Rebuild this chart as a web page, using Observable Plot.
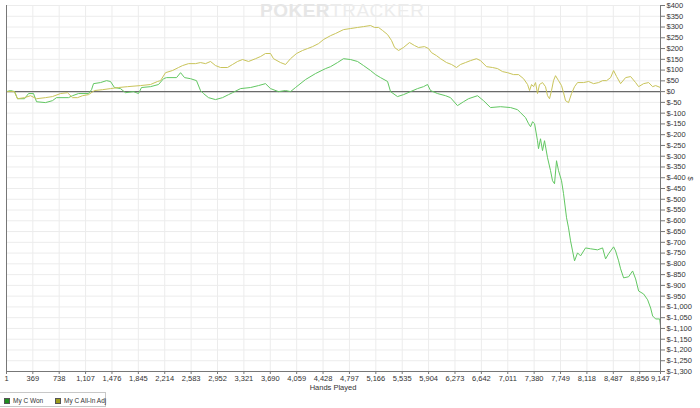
<!DOCTYPE html>
<html>
<head>
<meta charset="utf-8">
<script src="https://cdn.jsdelivr.net/npm/d3@7"></script>
<script src="https://cdn.jsdelivr.net/npm/@observablehq/plot@0.6"></script>
<style>
  html, body { margin: 0; padding: 0; background: #fff; }
  #wrap { position: relative; width: 700px; height: 408px; font-family: "Liberation Sans", Arial, sans-serif; }
  #wm { position: absolute; left: 260px; top: 1px; font-size: 19px; line-height: 19px; letter-spacing: 0.5px; color: #ececec; white-space: nowrap; }
  #wm b { font-weight: 900; color: #e6e6e6; }
  #xl { position: absolute; left: 333px; top: 384px; transform: translateX(-50%); font-size: 7.5px; line-height: 8px; color: #333; }
  #yl { position: absolute; left: 688px; top: 174px; font-size: 7.5px; color: #333; transform: rotate(90deg); }
  #legend { position: absolute; left: 0; top: 392px; width: 106px; height: 15px; border: 1px solid #c8c8c8; border-left: none; box-sizing: border-box; font-size: 6.5px; color: #333; }
  .it { position: absolute; top: 4px; display: flex; align-items: center; white-space: nowrap; }
  .sw { width: 6px; height: 6px; margin-right: 3px; border: 1px solid #555; box-sizing: border-box; }
</style>
</head>
<body>
<div id="wrap">
  <div id="chart"></div>
  <div id="wm"><b>POKER</b>TRACKER</div>
  <div id="xl">Hands Played</div>
  <div id="yl">$</div>
  <div id="legend"></div>
</div>
<script>
// Hands played (x) for each series
const wonHands = [1,57,113,155,253,309,379,421,546,644,700,868,924,1008,1148,1190,1218,1316,1400,1455,1511,1595,1665,1777,1847,1889,2015,2127,2197,2239,2379,2435,2491,2575,2658,2714,2756,2826,2924,3022,3106,3162,3274,3414,3525,3623,3693,3805,3903,3973,4043,4183,4323,4463,4533,4630,4714,4812,4910,4994,5092,5162,5232,5330,5372,5469,5553,5651,5749,5833,5889,5931,6029,6141,6210,6308,6392,6462,6588,6672,6770,6910,7050,7148,7190,7260,7302,7330,7358,7386,7427,7441,7469,7497,7525,7567,7609,7637,7665,7693,7721,7763,7791,7833,7861,7889,7917,7945,7987,8029,8099,8169,8267,8337,8379,8421,8491,8519,8561,8589,8631,8701,8757,8799,8841,8911,8967,9009,9037,9079,9135,9147];
const wonValues = [0,5,0,-33,-33,-9,-9,-47,-51,-42,-28,-28,-19,-9,-9,9,37,42,51,47,19,14,-5,0,-9,19,23,33,60,65,65,88,65,60,51,5,-9,-28,-37,-28,-14,-5,14,19,28,37,14,0,5,0,19,56,84,107,116,135,153,149,140,121,98,79,65,47,0,-23,-14,0,14,23,33,5,-9,-19,-28,-65,-47,-33,-19,-42,-74,-70,-74,-84,-98,-121,-149,-163,-140,-149,-228,-265,-219,-274,-228,-307,-367,-414,-428,-321,-367,-414,-474,-586,-633,-693,-740,-786,-749,-763,-726,-730,-735,-726,-777,-753,-721,-740,-786,-823,-865,-860,-833,-870,-926,-940,-967,-1005,-1042,-1056,-1056,-1088];

const adjHands = [1,113,155,253,337,421,546,644,756,854,924,994,1064,1148,1232,1344,1455,1567,1693,1875,2015,2113,2155,2225,2323,2407,2463,2547,2644,2714,2784,2854,2924,2994,3092,3162,3232,3302,3386,3484,3554,3623,3693,3735,3833,3903,3973,4057,4141,4211,4281,4365,4435,4533,4603,4714,4812,4910,4994,5092,5148,5204,5260,5330,5386,5428,5484,5553,5637,5707,5763,5847,5903,5945,6015,6071,6155,6225,6294,6350,6420,6490,6574,6630,6714,6798,6868,6938,7008,7092,7162,7232,7288,7316,7344,7372,7400,7427,7455,7497,7539,7567,7595,7623,7651,7679,7721,7763,7791,7819,7861,7903,7945,7987,8071,8141,8211,8281,8337,8393,8449,8491,8533,8589,8659,8729,8799,8841,8911,8981,9037,9079,9147];
const adjValues = [0,0,-33,-28,-19,-33,-28,-23,-9,-5,-28,-28,-19,-14,5,9,14,19,23,28,33,47,51,88,98,112,121,130,130,135,130,140,121,112,112,126,140,149,140,153,163,177,177,153,135,126,153,177,191,200,209,223,242,260,270,288,293,298,302,307,298,298,284,265,237,205,191,205,228,214,205,209,200,181,167,153,135,126,112,126,135,144,153,144,116,112,107,93,88,79,79,60,33,5,33,23,42,-9,33,42,23,-19,-33,5,51,74,51,28,-5,-42,-51,-9,23,42,42,47,37,42,51,51,65,98,70,37,65,70,42,23,37,42,23,28,19];

const xTicks = [1,369,738,1107,1476,1845,2214,2583,2952,3321,3690,4059,4428,4797,5166,5535,5904,6273,6642,7011,7380,7749,8118,8487,8856,9147];
const yTicks = d3.range(-1300, 401, 50);

const seriesNames = ["My C Won", "My C All-In Adj"];
const lineColors = ["#62c762", "#c9c45a"];
const swatchColors = ["#1f8f1f", "#9c9c1c"];

const won = wonHands.map((h, i) => ({hands: h, value: wonValues[i]}));
const adj = adjHands.map((h, i) => ({hands: h, value: adjValues[i]}));

const fmtNum = d3.format(",");
const yFmt = v => v < 0 ? "$-" + fmtNum(-v) : "$" + fmtNum(v);

const chart = Plot.plot({
  width: 700,
  height: 392,
  marginLeft: 6,
  marginRight: 40,
  marginTop: 5,
  marginBottom: 21,
  x: {domain: [1, 9147]},
  y: {domain: [-1300, 400]},
  style: {fontFamily: "'Liberation Sans', Arial, sans-serif", fontSize: "7.5px", color: "#333", background: "#fff"},
  marks: [
    Plot.gridX(xTicks, {stroke: "#ececec", strokeOpacity: 1}),
    Plot.gridY(yTicks, {stroke: "#ececec", strokeOpacity: 1}),
    Plot.ruleY([0], {stroke: "#6a6a6a", strokeWidth: 1.2}),
    Plot.line(won, {x: "hands", y: "value", stroke: lineColors[0], strokeWidth: 1}),
    Plot.line(adj, {x: "hands", y: "value", stroke: lineColors[1], strokeWidth: 1}),
    Plot.ruleX([1], {stroke: "#777"}),
    Plot.ruleX([9147], {stroke: "#777"}),
    Plot.ruleY([-1300], {stroke: "#777"}),
    Plot.axisY(yTicks, {anchor: "right", tickFormat: yFmt, tickSize: 4, tickPadding: 2, label: null, stroke: "#777"}),
    Plot.axisX(xTicks, {anchor: "bottom", tickFormat: fmtNum, tickSize: 3, tickPadding: 1, label: null, stroke: "#777"})
  ]
});
document.getElementById("chart").appendChild(chart);

const legend = document.getElementById("legend");
const lefts = [4, 55];
seriesNames.forEach((name, i) => {
  const it = document.createElement("div");
  it.className = "it";
  it.style.left = lefts[i] + "px";
  const sw = document.createElement("div");
  sw.className = "sw";
  sw.style.background = swatchColors[i];
  const tx = document.createElement("span");
  tx.textContent = name;
  it.appendChild(sw);
  it.appendChild(tx);
  legend.appendChild(it);
});
</script>
</body>
</html>
